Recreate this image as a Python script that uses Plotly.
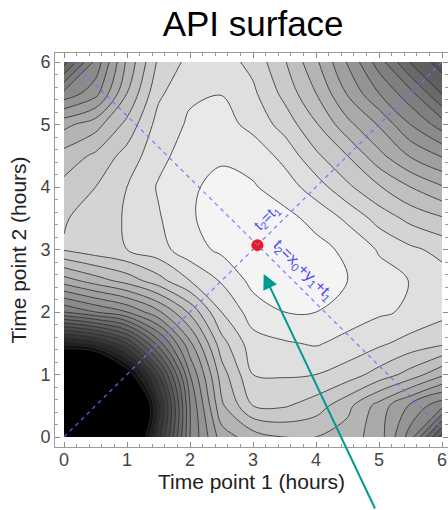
import plotly.graph_objects as go

# grid coordinates (hours)
t1_vals = [0, 0.5, 1, 1.5, 2, 2.5, 3, 3.5, 4, 4.5, 5, 5.5, 6]
t2_vals = [0, 0.5, 1, 1.5, 2, 2.5, 3, 3.5, 4, 4.5, 5, 5.5, 6]

# surface values (contour-level units) read row by row, t2 = 0 ... 6
z_t2_00 = [-10, -12, -5, 3.5, 11.0, 14.5, 15.5, 16.0, 16.0, 15.5, 14.5, 11.5, 6.5]
z_t2_05 = [-12, -15, -7, 2.5, 11.0, 15.8, 18.0, 18.1, 17.5, 16.3, 14.6, 12.8, 11.3]
z_t2_10 = [-7, -7, -1.1, 5.0, 12.0, 16.5, 19.0, 19.1, 19.0, 18.5, 17.6, 16.6, 15.2]
z_t2_15 = [1.5, 2.5, 5.0, 9.5, 13.8, 17.6, 19.6, 19.9, 20.1, 19.7, 19.2, 18.6, 18.2]
z_t2_20 = [10.0, 11.0, 12.0, 13.8, 16.2, 19.0, 20.5, 21.0, 21.0, 20.5, 20.15, 19.85, 19.3]
z_t2_25 = [14.5, 15.5, 16.4, 17.6, 19.0, 20.1, 21.3, 21.5, 21.35, 21.0, 20.4, 19.97, 19.45]
z_t2_30 = [18.1, 18.6, 19.0, 19.6, 20.6, 21.2, 21.7, 21.75, 21.3, 20.8, 19.9, 19.2, 18.7]
z_t2_35 = [17.9, 18.5, 19.1, 19.9, 20.9, 21.4, 21.7, 21.3, 20.7, 19.8, 18.6, 17.7, 17.1]
z_t2_40 = [17.3, 18.0, 19.0, 20.1, 20.9, 21.2, 21.1, 20.5, 19.5, 18.2, 17.1, 16.0, 15.1]
z_t2_45 = [16.4, 17.2, 18.4, 19.7, 20.5, 20.9, 20.6, 19.7, 18.2, 17.0, 15.3, 13.9, 12.9]
z_t2_50 = [14.7, 15.6, 17.3, 19.4, 20.15, 20.4, 19.7, 18.6, 17.1, 15.3, 13.9, 12.0, 10.5]
z_t2_55 = [11.3, 12.6, 16.0, 18.8, 19.85, 19.97, 19.2, 17.7, 16.0, 13.9, 12.0, 10.3, 7.9]
z_t2_60 = [7.6, 11.3, 15.2, 18.2, 19.3, 19.45, 18.7, 17.1, 15.2, 12.9, 10.5, 7.9, 6.5]

z_grid = [z_t2_00, z_t2_05, z_t2_10, z_t2_15, z_t2_20, z_t2_25, z_t2_30,
          z_t2_35, z_t2_40, z_t2_45, z_t2_50, z_t2_55, z_t2_60]

# reference lines and optimum
diag_t1 = [0, 6]
diag_t2 = [0, 6]
anti_t1 = [0.14, 6]
anti_t2 = [6, 0.14]
opt_t1 = [3.07]
opt_t2 = [3.07]

x_ticks = [0, 1, 2, 3, 4, 5, 6]
y_ticks = [0, 1, 2, 3, 4, 5, 6]

FONT = "Liberation Sans, Arial, sans-serif"

fig = go.Figure()

fig.add_trace(go.Contour(
    x=t1_vals, y=t2_vals, z=z_grid,
    autocontour=False,
    contours=dict(start=0, end=22, size=1, coloring="fill"),
    colorscale=[[0, "#000000"], [0.03, "#171717"], [1, "#f9f9f9"]],
    zmin=0, zmax=22,
    line=dict(color="rgba(45,45,45,0.8)", width=1, smoothing=1.0),
    showscale=False,
    hoverinfo="skip",
))

fig.add_trace(go.Scatter(
    x=opt_t1, y=opt_t2, mode="markers",
    marker=dict(size=12, color="#f01818", line=dict(width=0)),
    hoverinfo="skip", showlegend=False,
))

for xs, ys in [(diag_t1, diag_t2), (anti_t1, anti_t2)]:
    fig.add_trace(go.Scatter(
        x=xs, y=ys, mode="lines",
        line=dict(color="rgba(110,110,255,0.85)", width=1.3, dash="4px,4px"),
        hoverinfo="skip", showlegend=False,
    ))

label_color = "#4b4bf0"
fig.add_annotation(
    x=3.22, y=3.52, xref="x", yref="y",
    text="t<sub>2</sub>=t<sub>1</sub>", showarrow=False, textangle=-45,
    font=dict(family=FONT, size=15, color=label_color),
)
fig.add_annotation(
    x=3.8, y=2.66, xref="x", yref="y",
    text="t<sub>2</sub>=x<sub>0</sub>+y<sub>1</sub>+t<sub>1</sub>", showarrow=False, textangle=45,
    font=dict(family=FONT, size=16, color=label_color),
)

fig.add_annotation(
    x=3.17, y=2.61, xref="x", yref="y",
    ax=112, ay=238, axref="pixel", ayref="pixel",
    text="", showarrow=True,
    arrowhead=2, arrowsize=1.5, arrowwidth=2, arrowcolor="#009a90", standoff=0,
)

axis_common = dict(
    showgrid=False, zeroline=False,
    showline=True, linecolor="#9a9a9a", linewidth=1, mirror="ticks",
    ticks="inside", ticklen=5, tickwidth=1, tickcolor="#8a8a8a",
    tickfont=dict(family=FONT, size=18, color="#444444"),
    minor=dict(ticks="inside", ticklen=3, tickcolor="#9a9a9a", dtick=0.2, showgrid=False),
)

fig.update_xaxes(
    range=[-0.143, 6.095], tickmode="array", tickvals=x_ticks,
    ticklabelstandoff=-4,
    title=dict(text="Time point 1 (hours)", standoff=0,
               font=dict(family=FONT, size=21, color="#222222")),
    **axis_common,
)
fig.update_yaxes(
    range=[-0.16, 6.144], tickmode="array", tickvals=y_ticks,
    title=dict(text="Time point 2 (hours)", standoff=8,
               font=dict(family=FONT, size=21, color="#222222")),
    **axis_common,
)

fig.update_layout(
    width=448, height=510,
    margin=dict(l=55, r=0, t=53, b=63),
    paper_bgcolor="white", plot_bgcolor="white",
    title=dict(text="API surface", x=0.565, xanchor="center", y=0.953, yanchor="middle",
               font=dict(family=FONT, size=35, color="#000000")),
    showlegend=False,
)

fig.write_html("out.html")
